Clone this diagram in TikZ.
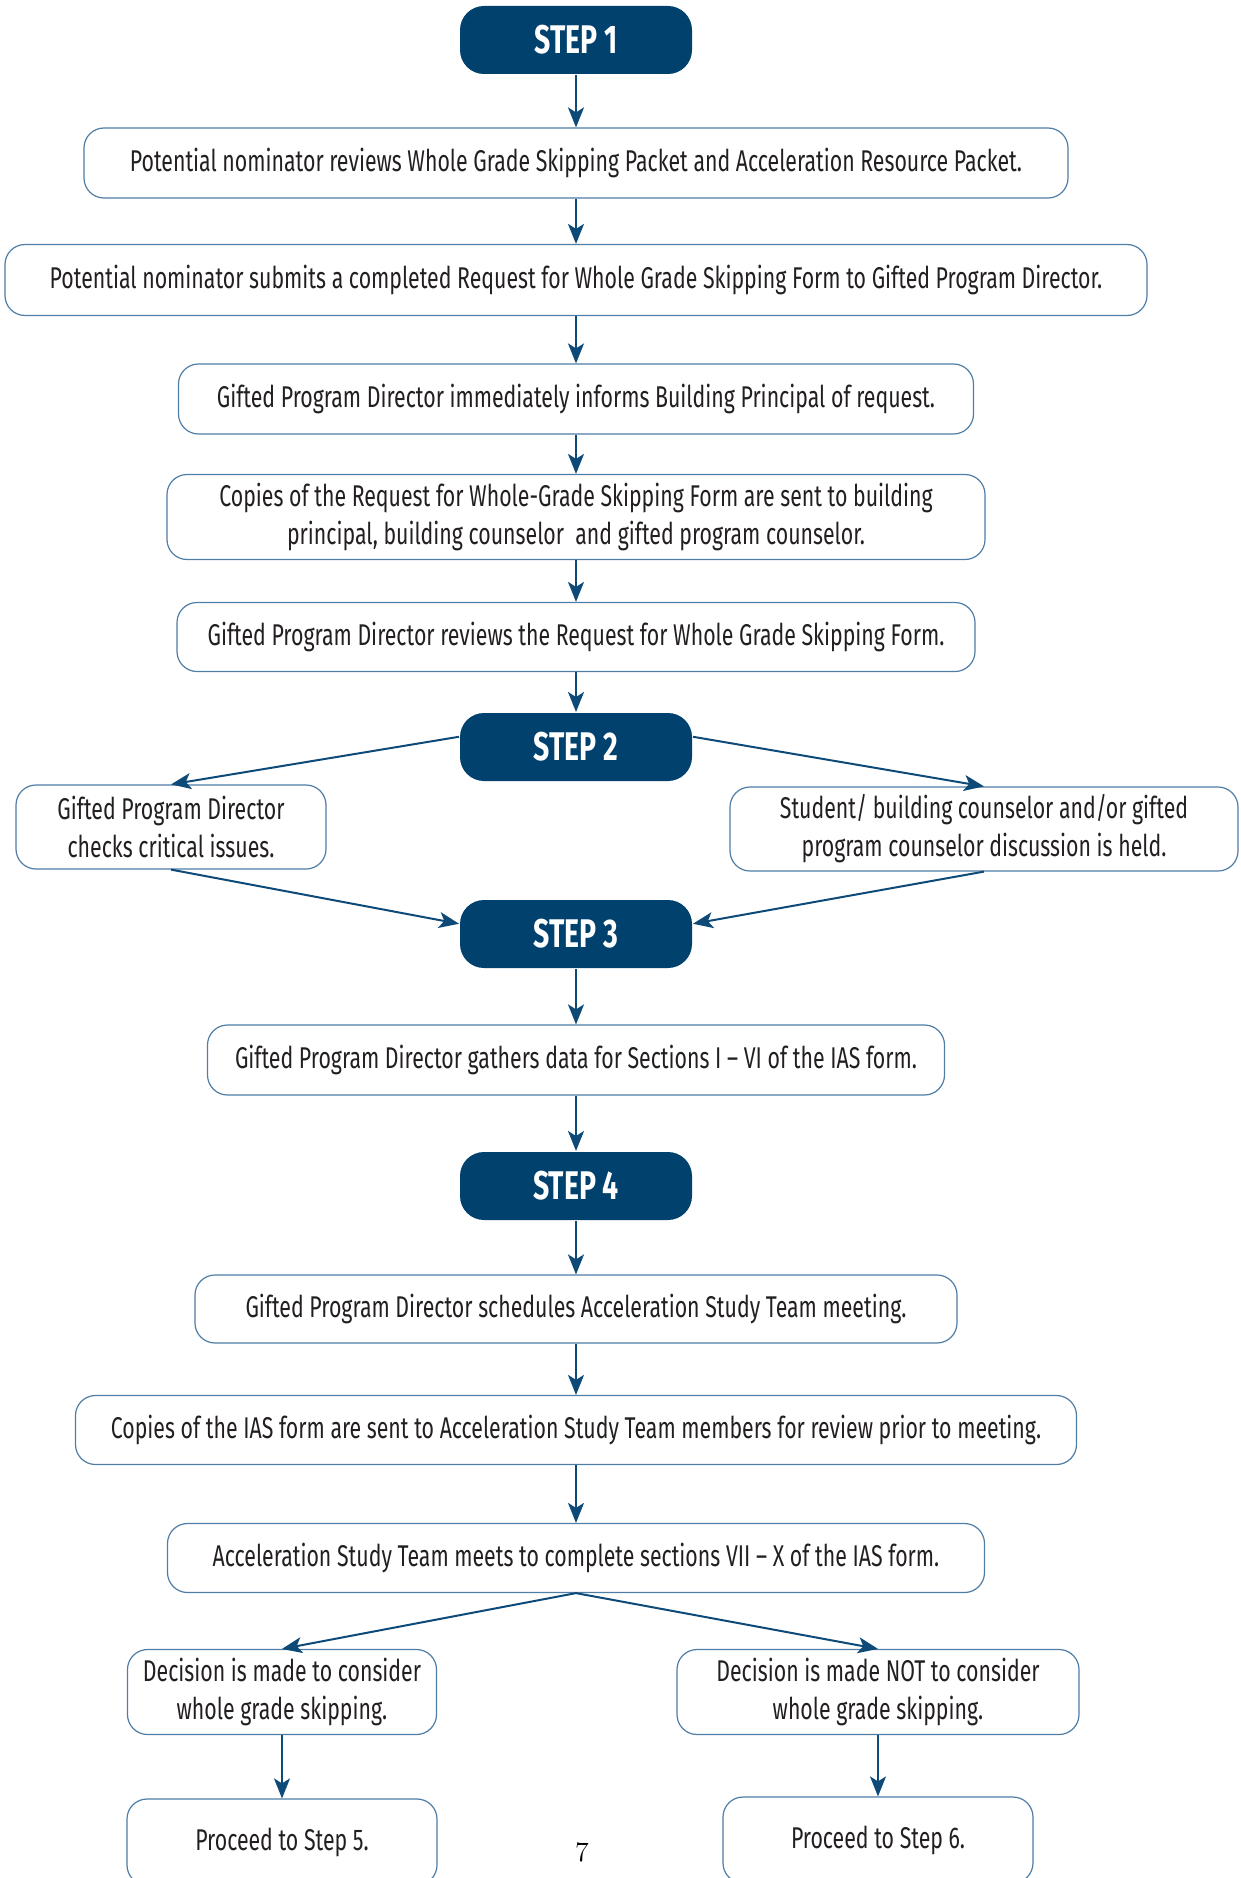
\documentclass[tikz,border=0pt]{standalone}
\usepackage{fontspec}
\usepackage[svgnames]{xcolor}
\usetikzlibrary{positioning,arrows.meta}

\newfontfamily\condfont[FakeStretch=0.71,Ligatures=TeX]{Fira Sans}
\definecolor{stepblue}{HTML}{00416E}
\definecolor{boxline}{HTML}{4E7DA6}
\definecolor{arrowblue}{HTML}{0E4A78}
\definecolor{boxtext}{HTML}{231F20}

\begin{document}
\begin{tikzpicture}[
            x = 0.5pt, y = -0.5pt, % picture laid out in pixels
            > = {Stealth[length=10pt,width=8pt,inset=2.5pt]}, % arrow head style
            line width = 1pt,
        ]

        \tikzstyle{stepbox}=[
            fill = stepblue,
            text = white,
            rounded corners = 12pt,
            minimum width = 116pt,
            minimum height = 34pt,
            font = \condfont\bfseries\fontsize{20}{22}\selectfont
        ]
        \tikzstyle{infobox}=[
            draw = boxline,
            line width = 0.6pt,
            text = boxtext,
            rounded corners = 10pt,
            align = center,
            inner sep = 0pt,
            font = \condfont\fontsize{15}{19}\selectfont
        ]
        \tikzstyle{link}=[->, draw = arrowblue, line width = 1pt]

  \useasboundingbox (0,0) rectangle (1241,1878);

  \node[stepbox] (s1) at (576,40) {STEP 1};
  \node[infobox, minimum width=492pt, minimum height=35pt] (n1) at (576,163)
    {Potential nominator reviews Whole Grade Skipping Packet and Acceleration Resource Packet.};
  \node[infobox, minimum width=571pt, minimum height=35.5pt] (n2) at (576,280)
    {Potential nominator submits a completed Request for Whole Grade Skipping Form to Gifted Program Director.};
  \node[infobox, minimum width=397.5pt, minimum height=35pt] (n3) at (576,399)
    {Gifted Program Director immediately informs Building Principal of request.};
  \node[infobox, minimum width=409pt, minimum height=42.5pt] (n4) at (576,517)
    {Copies of the Request for Whole-Grade Skipping Form are sent to building\\principal, building counselor\ \ and gifted program counselor.};
  \node[infobox, minimum width=399pt, minimum height=34.5pt] (n5) at (576,637)
    {Gifted Program Director reviews the Request for Whole Grade Skipping Form.};

  \node[stepbox] (s2) at (576,747) {STEP 2};
  \node[infobox, minimum width=155pt, minimum height=42pt] (c1) at (171,827)
    {Gifted Program Director\\checks critical issues.};
  \node[infobox, minimum width=254pt, minimum height=42pt] (c2) at (984,829)
    {Student/ building counselor and/or gifted\\program counselor discussion is held.};

  \node[stepbox] (s3) at (576,934) {STEP 3};
  \node[infobox, minimum width=368.5pt, minimum height=35pt] (n6) at (576,1060)
    {Gifted Program Director gathers data for Sections I – VI of the IAS form.};

  \node[stepbox] (s4) at (576,1186) {STEP 4};
  \node[infobox, minimum width=381pt, minimum height=34pt] (n7) at (576,1309)
    {Gifted Program Director schedules Acceleration Study Team meeting.};
  \node[infobox, minimum width=500.5pt, minimum height=34.5pt] (n8) at (576,1430)
    {Copies of the IAS form are sent to Acceleration Study Team members for review prior to meeting.};
  \node[infobox, minimum width=408.5pt, minimum height=34.5pt] (n9) at (576,1558)
    {Acceleration Study Team meets to complete sections VII – X of the IAS form.};

  \node[infobox, minimum width=154.5pt, minimum height=42.5pt] (d1) at (282,1692)
    {Decision is made to consider\\whole grade skipping.};
  \node[infobox, minimum width=201pt, minimum height=42.5pt] (d2) at (878,1692)
    {Decision is made NOT to consider\\whole grade skipping.};
  \node[infobox, minimum width=155pt, minimum height=43pt] (p1) at (282,1842)
    {Proceed to Step 5.};
  \node[infobox, minimum width=155pt, minimum height=43pt] (p2) at (878,1840)
    {Proceed to Step 6.};

  \node[font=\fontsize{14}{16}\selectfont] (pg) at (582,1852) {7};

  \draw[link] (s1) -- (n1);
  \draw[link] (n1) -- (n2);
  \draw[link] (n2) -- (n3);
  \draw[link] (n3) -- (n4);
  \draw[link] (n4) -- (n5);
  \draw[link] (n5) -- (s2);
  \draw[link] (s2.175) -- (c1.north);
  \draw[link] (s2.5) -- (c2.north);
  \draw[link] (c1.south) -- (s3.175);
  \draw[link] (c2.south) -- (s3.5);
  \draw[link] (s3) -- (n6);
  \draw[link] (n6) -- (s4);
  \draw[link] (s4) -- (n7);
  \draw[link] (n7) -- (n8);
  \draw[link] (n8) -- (n9);
  \draw[link] (n9.south) -- (d1.north);
  \draw[link] (n9.south) -- (d2.north);
  \draw[link] (d1) -- (p1);
  \draw[link] (d2) -- (p2);

\end{tikzpicture}
\end{document}
